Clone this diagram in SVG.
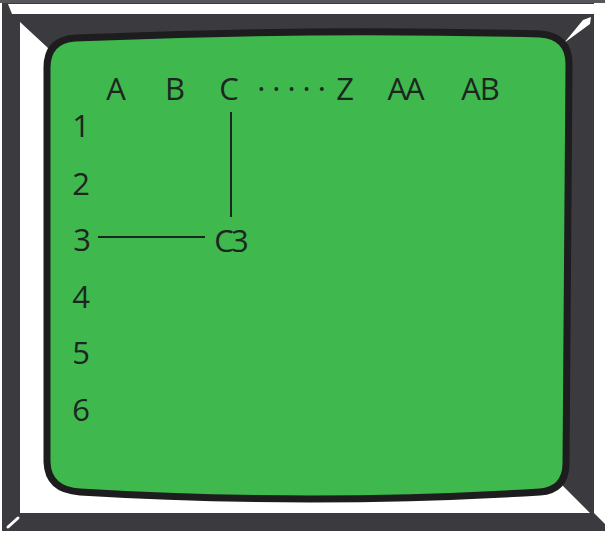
<svg xmlns="http://www.w3.org/2000/svg" width="605" height="533" viewBox="0 0 605 533">
<defs>
<style>
.lbl{font-family:"Open Sans","DejaVu Sans",sans-serif;font-weight:380;font-size:31px;fill:#1c2620;text-anchor:middle}
.con{stroke:#1c2620;stroke-width:2;fill:none}
.dark{fill:#3b3a3f}
.hl{fill:#ffffff}
</style>
</defs>
<rect width="605" height="533" fill="#ffffff"/>
<g id="frame">
<rect x="0" y="0" width="605" height="3" fill="#55555a"/>
<rect class="dark" x="2" y="3" width="592" height="528"/>
<polygon class="dark" points="594,513 605,524 605,531 594,531"/>
<polygon class="hl" points="8,4 605,4 605,14 12,14"/>
<polygon class="hl" points="20,22 48,48 560,483 590,513 20,513"/>
<polygon class="hl" points="564,43 583,20 591,17 590,24"/>
<line x1="8" y1="527" x2="18" y2="518" stroke="#ffffff" stroke-width="3" stroke-linecap="round"/>
</g>
<g id="screen">
<path d="M47,70 Q46,40 75,38 Q310,28 540,34 Q569,36 569,64 L566,465 Q565,490 540,492 Q310,506 80,492 Q48,490 47,462 Z" fill="#3fb84e" stroke="#1d1d1f" stroke-width="7"/>
</g>
<g id="connectors">
<line class="con" x1="231" y1="112" x2="231" y2="217"/>
<line class="con" x1="98" y1="237" x2="205" y2="237"/>
</g>
<g id="col-A"><text class="lbl" x="116" y="100">A</text></g>
<g id="col-B"><text class="lbl" x="175" y="100">B</text></g>
<g id="col-C"><text class="lbl" x="229" y="100">C</text></g>
<g id="col-dots"><text class="lbl" x="295" y="100" style="letter-spacing:7px">·····</text></g>
<g id="col-Z"><text class="lbl" x="345" y="100">Z</text></g>
<g id="col-AA"><text class="lbl" x="405" y="100" style="letter-spacing:-2px">AA</text></g>
<g id="col-AB"><text class="lbl" x="480" y="100" style="letter-spacing:-1px">AB</text></g>
<g id="row-1"><text class="lbl" x="81" y="137">1</text></g>
<g id="row-2"><text class="lbl" x="81" y="195">2</text></g>
<g id="row-3"><text class="lbl" x="82" y="251">3</text></g>
<g id="row-4"><text class="lbl" x="81" y="308">4</text></g>
<g id="row-5"><text class="lbl" x="81" y="364">5</text></g>
<g id="row-6"><text class="lbl" x="81" y="421">6</text></g>
<g id="cell-C3"><text class="lbl" x="230" y="252" style="letter-spacing:-3px">C3</text></g>
</svg>
